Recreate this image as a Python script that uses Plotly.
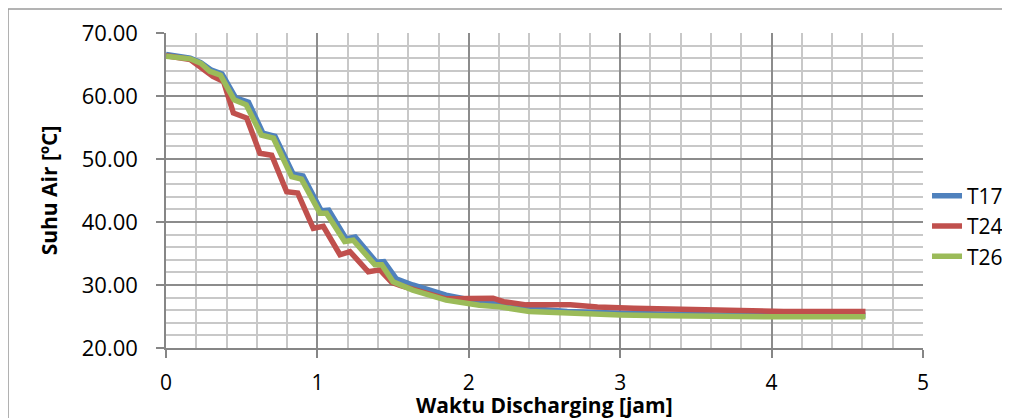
import plotly.graph_objects as go

# Time (hours) and water temperature (deg C)
t17_x = [0.0, 0.16, 0.23, 0.30, 0.37, 0.41, 0.46, 0.545, 0.64, 0.72, 0.84, 0.905, 1.025, 1.075,
         1.19, 1.25, 1.39, 1.44, 1.52, 1.63, 1.85, 2.07, 2.38, 2.65, 3.0, 3.64, 4.0, 4.62]
t17_y = [66.6, 66.0, 65.3, 64.1, 63.5, 61.8, 59.7, 59.0, 54.1, 53.6, 47.6, 47.3, 41.8, 41.9,
         37.3, 37.6, 33.6, 33.7, 31.0, 30.0, 28.4, 27.35, 26.3, 25.8, 25.5, 25.25, 25.2, 25.2]

t24_x = [0.0, 0.16, 0.31, 0.38, 0.445, 0.533, 0.62, 0.698, 0.797, 0.87, 0.973, 1.039, 1.149,
         1.215, 1.336, 1.413, 1.491, 1.55, 1.85, 1.96, 2.16, 2.23, 2.38, 2.67, 2.85, 3.09,
         3.64, 4.08, 4.62]
t24_y = [66.4, 65.8, 63.1, 62.3, 57.3, 56.5, 50.9, 50.6, 44.8, 44.6, 39.0, 39.3, 34.8,
         35.3, 32.1, 32.4, 30.4, 29.9, 27.8, 27.9, 27.9, 27.35, 26.85, 26.85, 26.5, 26.3,
         26.0, 25.8, 25.8]

t26_x = [0.0, 0.16, 0.23, 0.29, 0.36, 0.40, 0.45, 0.53, 0.63, 0.71, 0.83, 0.895, 1.017, 1.06,
         1.18, 1.237, 1.38, 1.425, 1.50, 1.63, 1.85, 2.07, 2.2, 2.4, 2.65, 3.0, 3.3, 3.64,
         4.0, 4.62]
t26_y = [66.3, 65.9, 65.2, 63.9, 63.3, 61.5, 59.4, 58.6, 53.8, 53.3, 47.2, 46.8, 41.4, 41.4,
         36.9, 37.1, 33.2, 33.2, 30.5, 29.2, 27.6, 26.8, 26.55, 25.8, 25.5, 25.25, 25.1, 25.0,
         24.95, 24.95]

series_names = ["T17", "T24", "T26"]
series_colors = ["#4F81BD", "#C0504D", "#9BBB59"]

x_ticks = [0, 1, 2, 3, 4, 5]
y_ticks = [20, 30, 40, 50, 60, 70]

fig = go.Figure()
for name, xs, ys, color in zip(series_names, [t17_x, t24_x, t26_x], [t17_y, t24_y, t26_y], series_colors):
    fig.add_trace(go.Scatter(x=xs, y=ys, mode="lines", name=name,
                             line=dict(color=color, width=5.5)))

font_family = "'Open Sans', Lato, sans-serif"

fig.update_layout(
    width=1002, height=410,
    margin=dict(l=158, r=87, t=25, b=70, autoexpand=False),
    paper_bgcolor="white", plot_bgcolor="white",
    font=dict(family=font_family, size=22, color="black"),
    showlegend=True,
    legend=dict(x=1.0053, xanchor="left", y=0.387, yanchor="middle",
                font=dict(size=21, color="black"), bgcolor="rgba(0,0,0,0)",
                tracegroupgap=0, itemwidth=30),
    xaxis=dict(
        range=[0, 5], tickvals=x_ticks, ticktext=[str(v) for v in x_ticks],
        showgrid=True, gridcolor="#8c8c8c", gridwidth=2,
        minor=dict(dtick=0.2, showgrid=True, gridcolor="#c8c8c8", gridwidth=1.5),
        showline=True, linecolor="#868686", linewidth=1.5,
        ticks="outside", ticklen=8, tickcolor="#868686", tickwidth=1.5,
        ticklabelstandoff=7, zeroline=False,
        tickfont=dict(size=21),
    ),
    yaxis=dict(
        range=[20, 70], tickvals=y_ticks, ticktext=["%.2f" % v for v in y_ticks],
        showgrid=True, gridcolor="#8c8c8c", gridwidth=2,
        minor=dict(dtick=2, showgrid=True, gridcolor="#c8c8c8", gridwidth=1.5),
        showline=True, linecolor="#868686", linewidth=1.5,
        ticks="outside", ticklen=8, tickcolor="#868686", tickwidth=1.5,
        ticklabelstandoff=14, zeroline=False,
        tickfont=dict(size=22),
        title=dict(text="<b>Suhu Air [ºC]</b>", font=dict(size=21), standoff=18),
    ),
    annotations=[dict(text="<b>Waktu Discharging [jam]</b>", xref="paper", yref="paper",
                      x=0.5, y=-0.18, xanchor="center", yanchor="middle",
                      showarrow=False, font=dict(size=21, color="black"))],
    shapes=[dict(type="rect", xref="paper", yref="paper",
                 x0=-0.2087, x1=1.13, y0=-0.26, y1=1.0762,
                 line=dict(color="#9a9a9a", width=1.5), layer="below")],
)

fig.write_html("out.html")
